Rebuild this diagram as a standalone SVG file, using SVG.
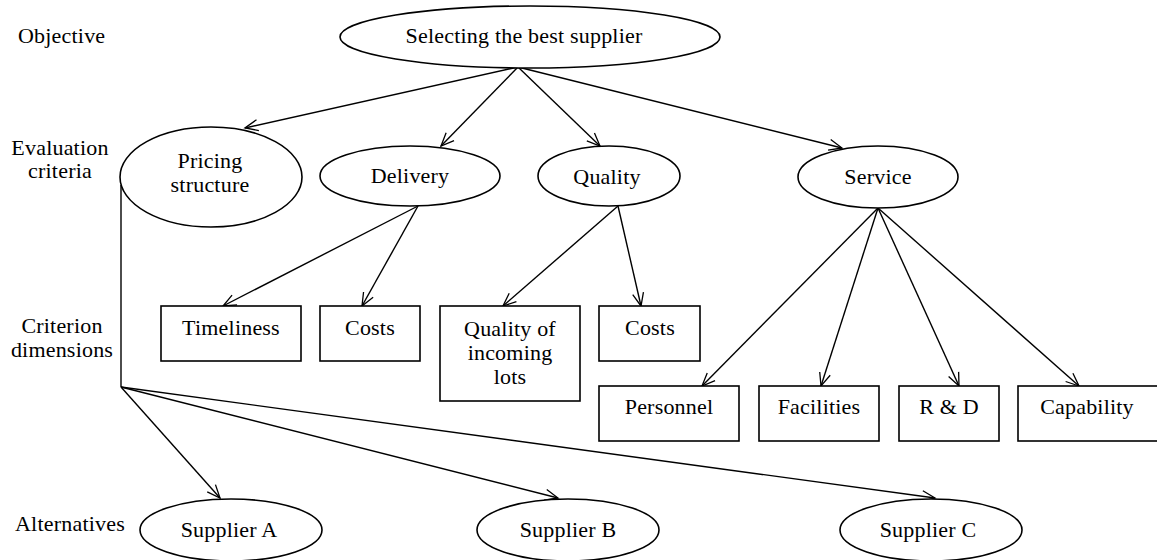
<svg xmlns="http://www.w3.org/2000/svg" width="1157" height="560" viewBox="0 0 1157 560" font-family="'Liberation Serif', 'DejaVu Serif', serif" font-size="22">
<style>
text{font-family:'Liberation Serif','DejaVu Serif',serif;font-size:22px;letter-spacing:0.2px;fill:#000}
.c{text-anchor:middle}
.n{fill:#fff;stroke:#000;stroke-width:1.6}
.e{fill:none;stroke:#000;stroke-width:1.4}
</style>
<defs>
<marker id="arr" markerWidth="16" markerHeight="14" refX="14" refY="7" orient="auto" markerUnits="userSpaceOnUse" overflow="visible">
<path d="M1,1.5 L14,7 L1,12.5" fill="none" stroke="#000" stroke-width="1.3"/>
</marker>
</defs>
<rect width="1157" height="560" fill="#fff"/>
<g id="levels">
<text x="18" y="43">Objective</text>
<text class="c" x="60" y="155">Evaluation</text>
<text class="c" x="60" y="178">criteria</text>
<text class="c" x="62" y="333">Criterion</text>
<text class="c" x="62" y="357">dimensions</text>
<text class="c" x="70" y="531">Alternatives</text>
</g>
<g id="connectors">
<line class="e" x1="518" y1="67" x2="245" y2="128" marker-end="url(#arr)"/>
<line class="e" x1="518" y1="67" x2="441" y2="146" marker-end="url(#arr)"/>
<line class="e" x1="518" y1="67" x2="600" y2="146" marker-end="url(#arr)"/>
<line class="e" x1="518" y1="67" x2="842" y2="148" marker-end="url(#arr)"/>
<line class="e" x1="418" y1="206" x2="223" y2="306" marker-end="url(#arr)"/>
<line class="e" x1="418" y1="206" x2="362" y2="306" marker-end="url(#arr)"/>
<line class="e" x1="618" y1="206" x2="503" y2="306" marker-end="url(#arr)"/>
<line class="e" x1="618" y1="206" x2="641" y2="306" marker-end="url(#arr)"/>
<line class="e" x1="878" y1="208" x2="702" y2="386" marker-end="url(#arr)"/>
<line class="e" x1="878" y1="208" x2="821" y2="386" marker-end="url(#arr)"/>
<line class="e" x1="878" y1="208" x2="959" y2="386" marker-end="url(#arr)"/>
<line class="e" x1="878" y1="208" x2="1079" y2="386" marker-end="url(#arr)"/>
<polyline class="e" points="121,185 121,387"/>
<line class="e" x1="121" y1="387" x2="220" y2="498" marker-end="url(#arr)"/>
<line class="e" x1="121" y1="387" x2="558" y2="498" marker-end="url(#arr)"/>
<line class="e" x1="121" y1="387" x2="935" y2="498" marker-end="url(#arr)"/>
</g>
<g id="objective">
<ellipse class="n" cx="530" cy="37" rx="190" ry="31"/>
<text class="c" x="524" y="43">Selecting the best supplier</text>
</g>
<g id="pricing">
<ellipse class="n" cx="211" cy="177" rx="91" ry="50"/>
<text class="c" x="210" y="168">Pricing</text>
<text class="c" x="210" y="192">structure</text>
</g>
<g id="delivery">
<ellipse class="n" cx="410" cy="176" rx="90" ry="30"/>
<text class="c" x="410" y="183">Delivery</text>
</g>
<g id="quality">
<ellipse class="n" cx="609" cy="176" rx="71" ry="30"/>
<text class="c" x="607" y="184">Quality</text>
</g>
<g id="service">
<ellipse class="n" cx="878" cy="177" rx="80" ry="31"/>
<text class="c" x="878" y="184">Service</text>
</g>
<g id="timeliness">
<rect class="n" x="161" y="306" width="140" height="55"/>
<text class="c" x="231" y="335">Timeliness</text>
</g>
<g id="costs1">
<rect class="n" x="320" y="306" width="100" height="55"/>
<text class="c" x="370" y="335">Costs</text>
</g>
<g id="incoming">
<rect class="n" x="440" y="306" width="140" height="95"/>
<text class="c" x="510" y="336">Quality of</text>
<text class="c" x="510" y="360">incoming</text>
<text class="c" x="510" y="384">lots</text>
</g>
<g id="costs2">
<rect class="n" x="599" y="306" width="101" height="55"/>
<text class="c" x="650" y="335">Costs</text>
</g>
<g id="personnel">
<rect class="n" x="599" y="386" width="140" height="55"/>
<text class="c" x="669" y="414">Personnel</text>
</g>
<g id="facilities">
<rect class="n" x="759" y="386" width="120" height="55"/>
<text class="c" x="819" y="414">Facilities</text>
</g>
<g id="rd">
<rect class="n" x="899" y="386" width="100" height="55"/>
<text class="c" x="949" y="414">R &amp; D</text>
</g>
<g id="capability">
<rect class="n" x="1018" y="386" width="150" height="55"/>
<text class="c" x="1087" y="414">Capability</text>
</g>
<g id="supplierA">
<ellipse class="n" cx="231" cy="530" rx="91" ry="31"/>
<text class="c" x="229" y="537">Supplier A</text>
</g>
<g id="supplierB">
<ellipse class="n" cx="568" cy="530" rx="91" ry="31"/>
<text class="c" x="568" y="537">Supplier B</text>
</g>
<g id="supplierC">
<ellipse class="n" cx="931" cy="530" rx="91" ry="31"/>
<text class="c" x="928" y="537">Supplier C</text>
</g>
</svg>
